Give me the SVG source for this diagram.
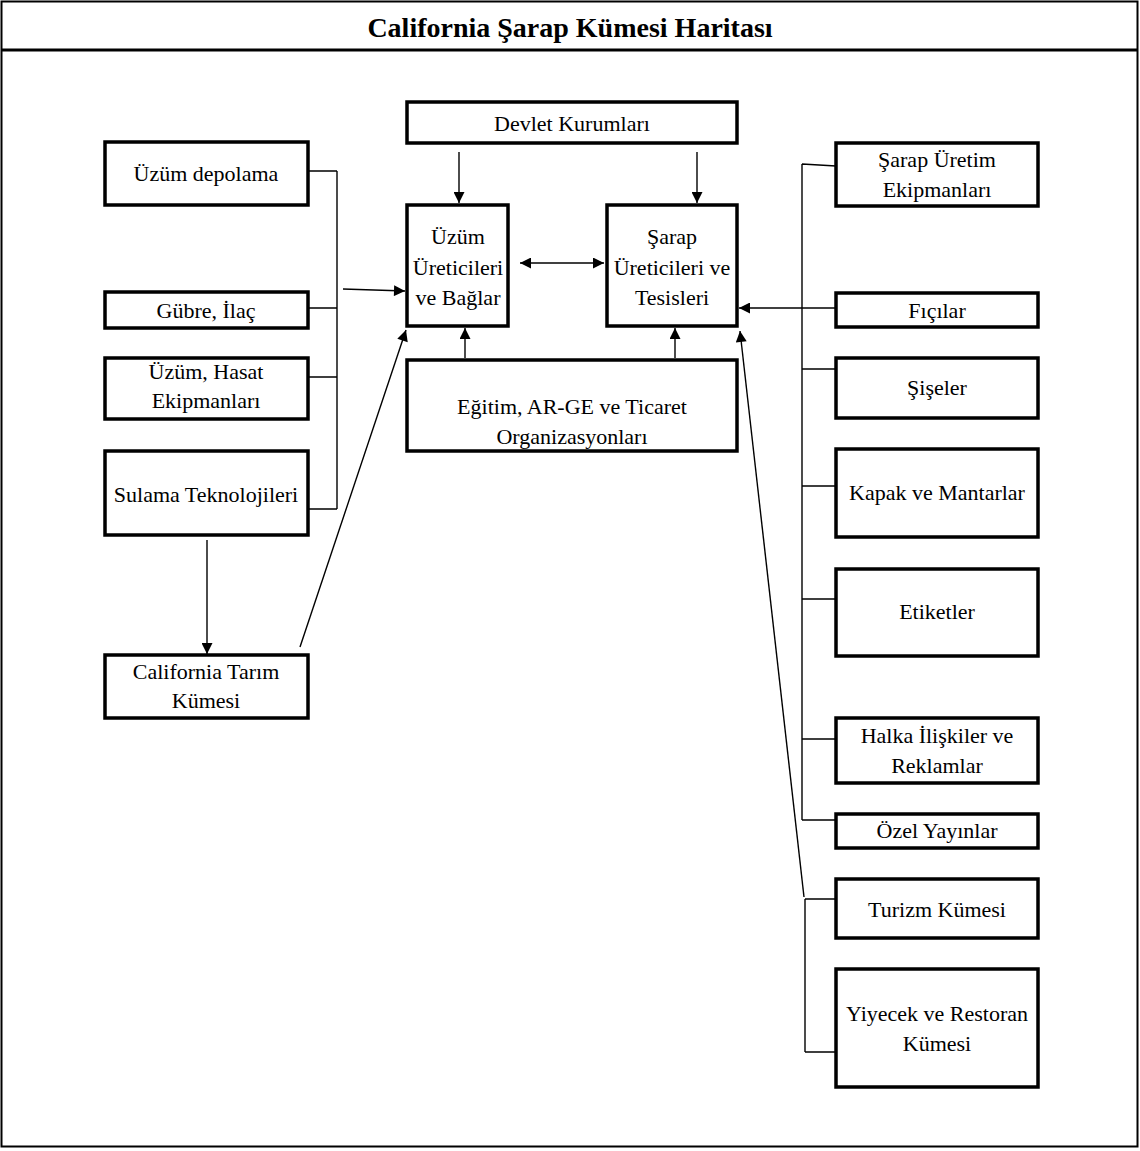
<svg xmlns="http://www.w3.org/2000/svg" width="1140" height="1151" viewBox="0 0 1140 1151">
<style>
.box{fill:#fff;stroke:#000;stroke-width:3.5}
.t{font-family:"Liberation Serif","Times New Roman",serif;font-size:22px;fill:#000;text-anchor:middle}
.title{font-family:"Liberation Serif","Times New Roman",serif;font-size:28px;font-weight:bold;fill:#000;text-anchor:middle}
.c{fill:none;stroke:#000;stroke-width:1.4}
.a{marker-end:url(#ah)}
</style>
<defs>
<marker id="ah" viewBox="0 0 10 10" refX="10" refY="5" markerWidth="12" markerHeight="11" markerUnits="userSpaceOnUse" orient="auto-start-reverse">
<path d="M0,0 L10,5 L0,10 Z" fill="#000"/>
</marker>
</defs>
<rect x="1.5" y="1.5" width="1136" height="1145" fill="#fff" stroke="#000" stroke-width="2"/>
<line x1="1" y1="50" x2="1138" y2="50" stroke="#000" stroke-width="3"/>
<text class="title" x="570" y="37">California Şarap Kümesi Haritası</text>

<g id="connectors">
<path class="c" d="M337,171 V509 M308,171 H337 M308,308 H337 M308,377 H337 M308,509 H337"/>
<line class="c a" x1="343" y1="289" x2="405" y2="291"/>
<line class="c a" x1="207" y1="540" x2="207" y2="654"/>
<line class="c a" x1="300" y1="647" x2="406" y2="330"/>
<line class="c a" x1="459" y1="152" x2="459" y2="203"/>
<line class="c a" x1="697" y1="152" x2="697" y2="203"/>
<line class="c a" x1="520" y1="263" x2="604" y2="263" marker-start="url(#ah)"/>
<line class="c a" x1="465" y1="358" x2="465" y2="328"/>
<line class="c a" x1="675" y1="358" x2="675" y2="328"/>
<line class="c a" x1="836" y1="308" x2="739" y2="308"/>
<path class="c" d="M802,164 V820 M802,164 L836,166 M802,369 H836 M802,486 H836 M802,599 H836 M802,739 H836 M802,820 H836"/>
<path class="c" d="M805,899 V1052 M805,899 H836 M805,1052 H836"/>
<line class="c a" x1="804" y1="897" x2="740" y2="331"/>
</g>

<g id="n-uzum-depolama"><rect class="box" x="105" y="142" width="203" height="63"/><text class="t" x="206" y="181">Üzüm depolama</text></g>
<g id="n-gubre"><rect class="box" x="105" y="292" width="203" height="36"/><text class="t" x="206" y="318">Gübre, İlaç</text></g>
<g id="n-hasat"><rect class="box" x="105" y="358" width="203" height="61"/><text class="t" x="206" y="379">Üzüm, Hasat</text><text class="t" x="206" y="408">Ekipmanları</text></g>
<g id="n-sulama"><rect class="box" x="105" y="451" width="203" height="84"/><text class="t" x="206" y="502">Sulama Teknolojileri</text></g>
<g id="n-tarim"><rect class="box" x="105" y="655" width="203" height="63"/><text class="t" x="206" y="679">California Tarım</text><text class="t" x="206" y="708">Kümesi</text></g>

<g id="n-devlet"><rect class="box" x="407" y="102" width="330" height="41"/><text class="t" x="572" y="131">Devlet Kurumları</text></g>
<g id="n-uzum-ureticileri"><rect class="box" x="407" y="205" width="101" height="121"/><text class="t" x="458" y="244">Üzüm</text><text class="t" x="458" y="275">Üreticileri</text><text class="t" x="458" y="305">ve Bağlar</text></g>
<g id="n-sarap-ureticileri"><rect class="box" x="607" y="205" width="130" height="121"/><text class="t" x="672" y="244">Şarap</text><text class="t" x="672" y="275">Üreticileri ve</text><text class="t" x="672" y="305">Tesisleri</text></g>
<g id="n-egitim"><rect class="box" x="407" y="360" width="330" height="91"/><text class="t" x="572" y="414">Eğitim, AR-GE ve Ticaret</text><text class="t" x="572" y="444">Organizasyonları</text></g>

<g id="n-sarap-ekipman"><rect class="box" x="836" y="143" width="202" height="63"/><text class="t" x="937" y="167">Şarap Üretim</text><text class="t" x="937" y="197">Ekipmanları</text></g>
<g id="n-ficilar"><rect class="box" x="836" y="293" width="202" height="34"/><text class="t" x="937" y="318">Fıçılar</text></g>
<g id="n-siseler"><rect class="box" x="836" y="358" width="202" height="60"/><text class="t" x="937" y="395">Şişeler</text></g>
<g id="n-kapak"><rect class="box" x="836" y="449" width="202" height="88"/><text class="t" x="937" y="500">Kapak ve Mantarlar</text></g>
<g id="n-etiketler"><rect class="box" x="836" y="569" width="202" height="87"/><text class="t" x="937" y="619">Etiketler</text></g>
<g id="n-halka"><rect class="box" x="836" y="718" width="202" height="65"/><text class="t" x="937" y="743">Halka İlişkiler ve</text><text class="t" x="937" y="773">Reklamlar</text></g>
<g id="n-ozel"><rect class="box" x="836" y="814" width="202" height="34"/><text class="t" x="937" y="838">Özel Yayınlar</text></g>
<g id="n-turizm"><rect class="box" x="836" y="879" width="202" height="59"/><text class="t" x="937" y="917">Turizm Kümesi</text></g>
<g id="n-yiyecek"><rect class="box" x="836" y="969" width="202" height="118"/><text class="t" x="937" y="1021">Yiyecek ve Restoran</text><text class="t" x="937" y="1051">Kümesi</text></g>
</svg>
